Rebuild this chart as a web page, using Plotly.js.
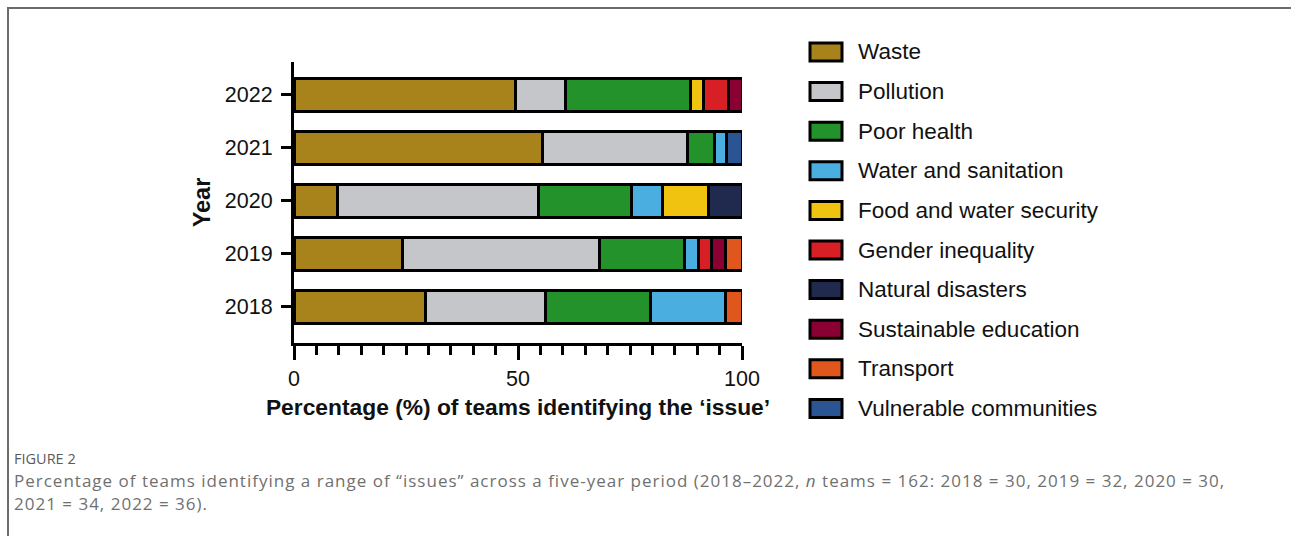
<!DOCTYPE html>
<html>
<head>
<meta charset="utf-8">
<script src="https://cdn.plot.ly/plotly-3.0.1.min.js"></script>
<style>
  html, body { margin:0; padding:0; background:#fff; }
  #wrap { position:relative; width:1291px; height:536px; overflow:hidden; }
  #chart { position:absolute; left:0; top:0; width:1291px; height:536px; }
  #frame { position:absolute; left:7px; top:7px; width:1300px; height:600px;
           border-left:2px solid #6b6b6b; border-top:2px solid #6b6b6b; pointer-events:none; }
</style>
</head>
<body>
<div id="wrap"><div id="chart"></div><div id="frame"></div></div>
<script>
// ---- data ----
const years = ['2018', '2019', '2020', '2021', '2022'];
const issueNames = ['Waste', 'Pollution', 'Poor health', 'Water and sanitation',
  'Food and water security', 'Gender inequality', 'Natural disasters',
  'Sustainable education', 'Transport', 'Vulnerable communities'];
const issueColors = ['#A8821A', '#C5C6C9', '#23922A', '#4AAFE0', '#EFC30F',
  '#D91F26', '#1F2A4E', '#8A0033', '#E0571E', '#2A5492'];
// values per year 2018..2022 (percent)
const waste       = [29.4, 24.3, 9.7, 55.4, 49.4];
const pollution   = [26.8, 43.9, 44.9, 32.5, 11.1];
const poorHealth  = [23.3, 19.0, 20.7, 5.9, 28.0];
const water       = [16.8, 3.0, 7.0, 2.8, null];
const food        = [null, null, 10.3, null, 2.8];
const gender      = [null, 3.1, null, null, 5.6];
const natural     = [null, null, 7.4, null, null];
const sustEdu     = [null, 3.1, null, null, 3.1];
const transport   = [3.7, 3.6, null, null, null];
const vulnerable  = [null, null, null, 3.4, null];
const xTickVals = [0, 50, 100];
const caption1 = 'FIGURE 2';
const caption2a = 'Percentage of teams identifying a range of \u201cissues\u201d across a five-year period (2018\u20132022, <i>n</i> teams = 162: 2018 = 30, 2019 = 32, 2020 = 30,';
const caption2b = '2021 = 34, 2022 = 36).';

const series = [waste, pollution, poorHealth, water, food, gender, natural, sustEdu, transport, vulnerable];

const FONT = 'Arial, "Liberation Sans", sans-serif';
const CAPFONT = '"Open Sans", "Noto Sans", sans-serif';
const W = 1291, H = 536;
const L = 294, R = 742, T = 62, B = 343;
const px = x => (x - L) / (R - L);
const py = y => (B - y) / (B - T);

const traces = series.map((vals, i) => ({
  type: 'bar', orientation: 'h',
  x: vals, y: years, name: issueNames[i],
  width: 0.62,
  marker: { color: issueColors[i], line: { color: '#000', width: 3 } },
  showlegend: false, hoverinfo: 'x+name'
}));

const shapes = [];
const annotations = [];
issueNames.forEach((nm, i) => {
  const yc = 52 + i * 39.6;
  shapes.push({ type: 'rect', xref: 'paper', yref: 'paper',
    x0: px(810), x1: px(842), y0: py(yc + 9), y1: py(yc - 9),
    fillcolor: issueColors[i], line: { color: '#000', width: 3 } });
  annotations.push({ xref: 'paper', yref: 'paper', x: px(856), y: py(yc),
    xanchor: 'left', yanchor: 'middle', showarrow: false, text: nm,
    font: { family: FONT, size: 22.5, color: '#111' } });
});
annotations.push({ xref: 'paper', yref: 'paper', x: px(12), y: py(458),
  xanchor: 'left', yanchor: 'middle', showarrow: false, text: caption1,
  font: { family: CAPFONT, size: 14.5, color: '#5a5a5a' } });
annotations.push({ xref: 'paper', yref: 'paper', x: px(12), y: py(480.5),
  xanchor: 'left', yanchor: 'middle', showarrow: false, text: caption2a,
  font: { family: CAPFONT, size: 17, color: '#707070' } });
annotations.push({ xref: 'paper', yref: 'paper', x: px(12), y: py(503.5),
  xanchor: 'left', yanchor: 'middle', showarrow: false, text: caption2b,
  font: { family: CAPFONT, size: 17, color: '#707070' } });

const layout = {
  width: W, height: H,
  margin: { l: L, r: W - R, t: T, b: H - B, pad: 0 },
  paper_bgcolor: '#fff', plot_bgcolor: '#fff',
  barmode: 'stack', bargap: 0.38,
  showlegend: false,
  font: { family: FONT, color: '#111' },
  xaxis: {
    range: [0, 100], tickvals: xTickVals, ticktext: xTickVals.map(String),
    ticks: 'outside', ticklen: 14, tickwidth: 3, tickcolor: '#000',
    minor: { dtick: 5, ticks: 'outside', ticklen: 9, tickwidth: 3, tickcolor: '#000', showgrid: false },
    showline: true, linecolor: '#000', linewidth: 3, showgrid: false, zeroline: false,
    tickfont: { family: FONT, size: 21.5, color: '#111' },
    title: { text: '<b>Percentage (%) of teams identifying the \u2018issue\u2019</b>', standoff: 10,
             font: { family: FONT, size: 22.8, color: '#111' } },
    fixedrange: true
  },
  yaxis: {
    type: 'category', categoryorder: 'array', categoryarray: years,
    range: [-0.68, 4.62],
    ticks: 'outside', ticklen: 10, tickwidth: 3, tickcolor: '#000',
    showline: true, linecolor: '#000', linewidth: 3, showgrid: false, zeroline: false,
    tickfont: { family: FONT, size: 21.5, color: '#111' },
    ticklabelstandoff: 4,
    title: { text: '<b>Year</b>', standoff: 8, font: { family: FONT, size: 23.5, color: '#111' } },
    fixedrange: true
  },
  shapes: shapes,
  annotations: annotations
};

Plotly.newPlot('chart', traces, layout, { displayModeBar: false, staticPlot: true }).then(() => {
  document.querySelectorAll('#chart .annotation-text').forEach(t => {
    const s = t.textContent;
    if (s.startsWith('Percentage of teams') || s.startsWith('2021 =')) {
      const bb = t.getBBox();
      t.style.letterSpacing = '1px';
      t.setAttribute('text-anchor', 'start');
      t.setAttribute('x', bb.x);
    }
  });
});
</script>
</body>
</html>
